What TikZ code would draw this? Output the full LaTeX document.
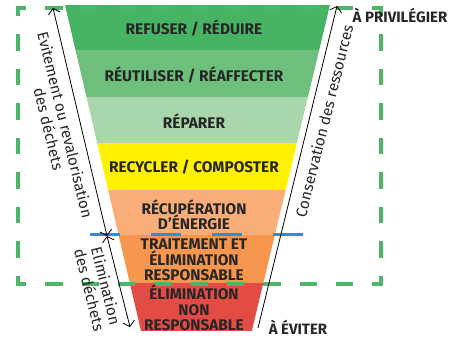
\documentclass[tikz,border=0pt]{standalone}
\usepackage{fontspec}
\setmainfont{Fira Sans}
\usetikzlibrary{arrows.meta}
\definecolor{bandA}{HTML}{47B463}
\definecolor{bandB}{HTML}{6EBF7C}
\definecolor{bandC}{HTML}{A9D6AA}
\definecolor{bandD}{HTML}{FFF100}
\definecolor{bandE}{HTML}{F9AE79}
\definecolor{bandF}{HTML}{F6964F}
\definecolor{bandG}{HTML}{E34C45}
\definecolor{dashgreen}{HTML}{4DB56A}
\definecolor{dashblue}{HTML}{2B8FD0}
\definecolor{inkdark}{HTML}{262626}
\tikzset{
  >={Straight Barb[length=5pt,width=12pt]},
  bandtext/.style={font=\bfseries\fontsize{15.4}{15.5}\selectfont, text=inkdark, align=center, inner sep=0pt},
  sidetext/.style={font=\fontsize{15.3}{17}\selectfont, text=inkdark, align=center, inner sep=0pt},
  endtext/.style={font=\bfseries\fontsize{15}{16}\selectfont, text=inkdark, inner sep=0pt},
  greendash/.style={draw=dashgreen, line width=4pt, line cap=rect},
  scale line/.style={line width=0.8pt},
}
\begin{document}
\begin{tikzpicture}[x=1pt,y=-1pt]
\useasboundingbox (0,0) rectangle (451,337);
\begin{scope}
\clip (65,5) -- (330,5) -- (251.8,331) -- (141,331) -- cycle;
\fill[bandA] (0,5) rectangle (451,50);
\fill[bandB] (0,50) rectangle (451,97);
\fill[bandC] (0,97) rectangle (451,143);
\fill[bandD] (0,143) rectangle (451,190);
\fill[bandE] (0,190) rectangle (451,235);
\fill[bandF] (0,235) rectangle (451,283);
\fill[bandG] (0,283) rectangle (451,331);
\end{scope}
\draw[greendash, dash pattern=on 13.35pt off 23pt, dash phase=6.675pt] (17.5,8) -- (381,8);
\draw[greendash, dash pattern=on 13.35pt off 23pt, dash phase=6.675pt] (17.5,284) -- (381,284);
\draw[greendash, dash pattern=on 12.5pt off 22pt, dash phase=6.25pt] (17.5,8) -- (17.5,284);
\draw[greendash, dash pattern=on 12.5pt off 22pt, dash phase=6.25pt] (381,8) -- (381,284);
\draw[dashblue, line width=3pt, dash pattern=on 30pt off 31pt] (90,235) -- (304,235);
\node[bandtext] (refuser) at (194,28) {REFUSER / RÉDUIRE};
\node[bandtext] (reutiliser) at (194,75) {RÉUTILISER / RÉAFFECTER};
\node[bandtext] (reparer) at (194,121) {RÉPARER};
\node[bandtext] (recycler) at (194,167) {RECYCLER / COMPOSTER};
\node[bandtext] (recuperation) at (194,215) {RÉCUPÉRATION\\D’ÉNERGIE};
\node[bandtext] (traitement) at (194,260) {TRAITEMENT ET\\ÉLIMINATION\\RESPONSABLE};
\node[bandtext] (elimination) at (194,308) {ÉLIMINATION\\NON\\RESPONSABLE};
\node[endtext] (privilegier) at (400,15) {À PRIVILÉGIER};
\node[endtext] (eviter) at (298,327) {À ÉVITER};
\coordinate (evtop) at (53,8);
\coordinate (evmid) at (107,236);
\coordinate (elbot) at (130,327);
\coordinate (cstop) at (337,6);
\coordinate (csbot) at (258,328);
\draw[<->, scale line] (evtop) -- (evmid);
\draw[<->, scale line] (evmid) -- (elbot);
\draw[->, scale line] (csbot) -- (cstop);
\node[sidetext, rotate=-76.3] (evitement) at (57.3,127) {Evitement ou revalorisation\\des déchets};
\node[sidetext, rotate=-76] (elimdechets) at (98,288) {Elimination\\des déchets};
\node[sidetext, rotate=76] (conservation) at (324,121) {Conservation des ressources};
\end{tikzpicture}
\end{document}
